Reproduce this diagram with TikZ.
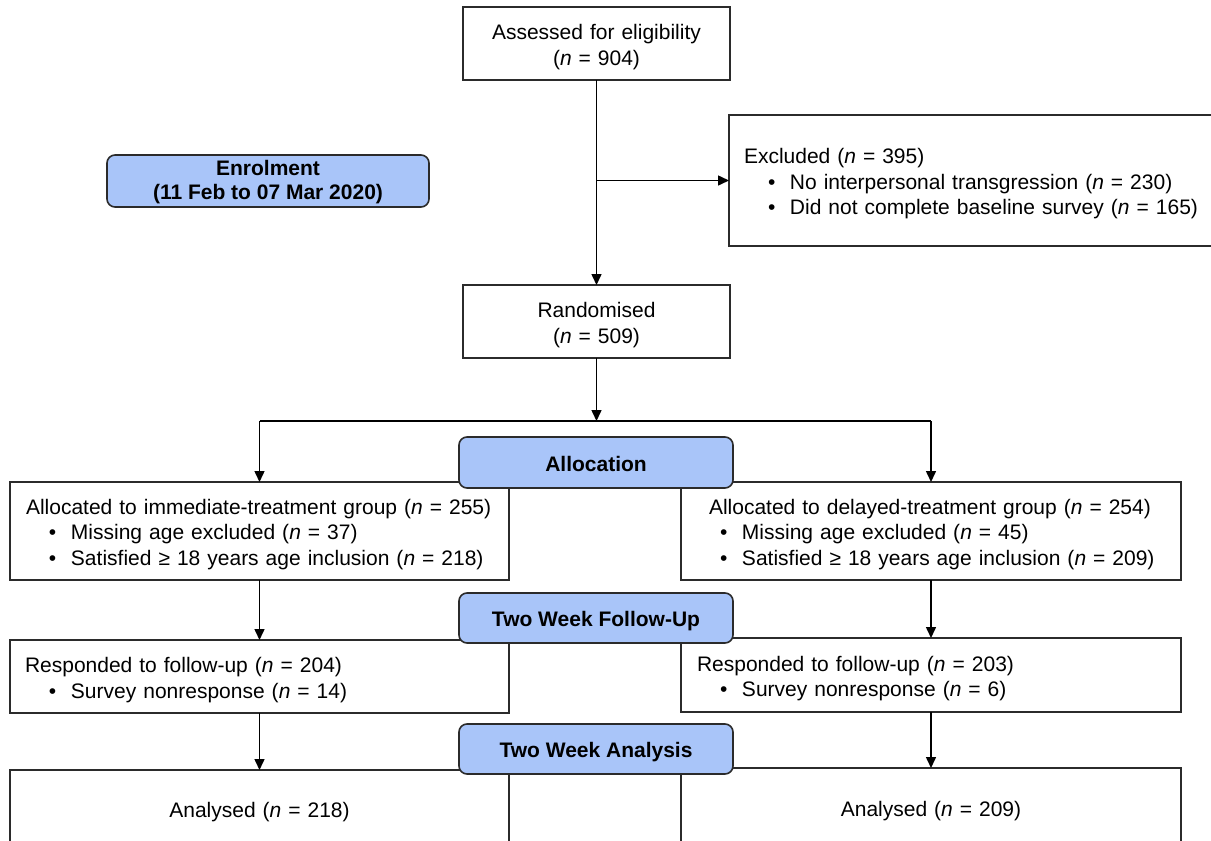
\documentclass[tikz,border=0pt]{standalone}
\usepackage{fontspec}
\setmainfont{Liberation Sans}
\usetikzlibrary{arrows.meta}
\definecolor{phasefill}{HTML}{A9C5F9}
\definecolor{edge}{HTML}{2B2B2B}
\newcommand{\bitem}[1]{\hspace*{39pt}\makebox[22pt][l]{•}#1}
\newcommand{\lead}[2]{\hspace*{#1pt}#2}
\newcommand{\nn}{\textit{n}}
% #1 name, #2 box style, #3 centre, #4 width, #5 height, #6 text shift down, #7 align, #8 text
\newcommand{\flowbox}[8]{%
  \node[#2,minimum width=#4,minimum height=#5] (#1) at #3 {};
  \node[txt,text width=#4,align=#7,yshift=-#6] (#1-t) at (#1.center) {#8};
}
\begin{document}
\begin{tikzpicture}[x=1pt,y=-1pt,
  font=\fontsize{21}{25.5}\selectfont,
  box/.style={draw=edge,line width=1.6pt,fill=white,rectangle,inner sep=0pt,outer sep=0pt},
  phase/.style={draw=edge,line width=1.6pt,fill=phasefill,rounded corners=8pt,inner sep=0pt,outer sep=0pt},
  txt/.style={inner sep=0pt,outer sep=0pt},
  ptxt/.style={txt,font=\fontsize{21}{24}\selectfont\bfseries},
  arr/.style={draw=black,line width=1.5pt,-{Triangle[length=11pt,width=10pt]}}
]
\useasboundingbox (0,0) rectangle (1211,841);
\clip (0,0) rectangle (1211,841);

% top part
\flowbox{elig}{box}{(596.5,43.5)}{267pt}{73pt}{3.5pt}{center}
  {Assessed for eligibility\\(\nn{} = 904)}
\flowbox{excl}{box}{(979.5,180.5)}{501pt}{131pt}{3.5pt}{left}
  {\lead{15}{Excluded (\nn{} = 395)}\\
   \bitem{No interpersonal transgression (\nn{} = 230)}\\
   \bitem{Did not complete baseline survey (\nn{} = 165)}}
\flowbox{rand}{box}{(596.5,321.5)}{267pt}{73pt}{3.5pt}{center}
  {Randomised\\(\nn{} = 509)}
\node[phase,minimum width=322pt,minimum height=52pt] (enrol) at (268,181) {};
\node[ptxt,align=center,yshift=-1.5pt] (enrol-t) at (enrol.center) {Enrolment\\(11 Feb to 07 Mar 2020)};

% allocation
\flowbox{la}{box}{(259.5,531)}{499pt}{98pt}{3.5pt}{left}
  {\lead{16}{Allocated to immediate-treatment group (\nn{} = 255)}\\
   \bitem{Missing age excluded (\nn{} = 37)}\\
   \bitem{Satisfied ≥ 18 years age inclusion (\nn{} = 218)}}
\flowbox{ra}{box}{(931,531)}{500pt}{98pt}{3.5pt}{left}
  {\lead{28}{Allocated to delayed-treatment group (\nn{} = 254)}\\
   \bitem{Missing age excluded (\nn{} = 45)}\\
   \bitem{Satisfied ≥ 18 years age inclusion (\nn{} = 209)}}

% follow-up
\flowbox{lf}{box}{(259.5,676.5)}{499pt}{73pt}{3.5pt}{left}
  {\lead{15}{Responded to follow-up (\nn{} = 204)}\\
   \bitem{Survey nonresponse (\nn{} = 14)}}
\flowbox{rf}{box}{(931,675)}{500pt}{74pt}{3.5pt}{left}
  {\lead{16}{Responded to follow-up (\nn{} = 203)}\\
   \bitem{Survey nonresponse (\nn{} = 6)}}

% analysis
\flowbox{lan}{box}{(259.5,808)}{499pt}{76pt}{4pt}{center}
  {Analysed (\nn{} = 218)}
\flowbox{ran}{box}{(931,807)}{500pt}{78pt}{4pt}{center}
  {Analysed (\nn{} = 209)}

% connectors
\coordinate (split) at (596.5,421);
\draw[arr] (elig.south) -- (rand.north);
\draw[arr] (elig.south |- excl.west) -- (excl.west);
\draw[arr] (rand.south) -- (split);
\draw[line width=1.5pt] (la.north |- split) -- (ra.north |- split);
\draw[arr] (la.north |- split) -- (la.north);
\draw[arr] (ra.north |- split) -- (ra.north);
\draw[arr] (la.south) -- (lf.north);
\draw[arr] (ra.south) -- (rf.north);
\draw[arr] (lf.south) -- (lan.north);
\draw[arr] (rf.south) -- (ran.north);

% phase labels (on top)
\node[phase,minimum width=274pt,minimum height=51pt] (alloc) at (596,462.5) {};
\node[ptxt,yshift=-1pt] (alloc-t) at (alloc.center) {Allocation};
\node[phase,minimum width=274pt,minimum height=50pt] (follow) at (596,618) {};
\node[ptxt,yshift=-3pt] (follow-t) at (follow.center) {Two Week Follow-Up};
\node[phase,minimum width=274pt,minimum height=50pt] (anal) at (596,749) {};
\node[ptxt,yshift=-3pt] (anal-t) at (anal.center) {Two Week Analysis};
\end{tikzpicture}
\end{document}
